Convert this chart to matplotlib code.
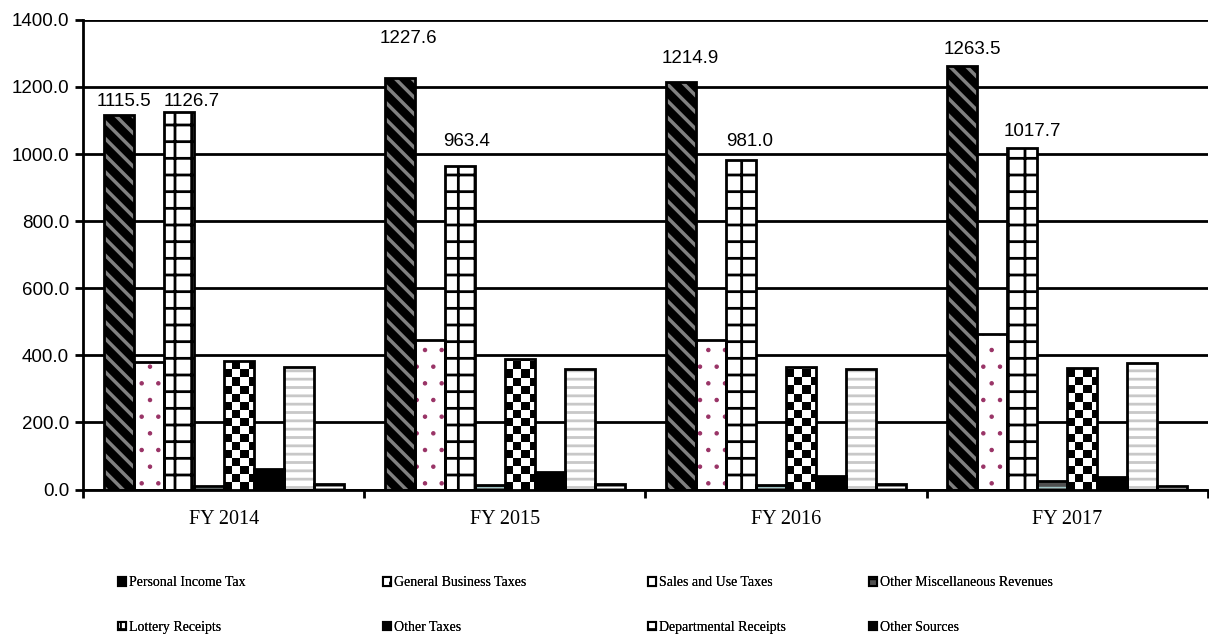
import numpy as np
import matplotlib
matplotlib.use("Agg")
import matplotlib.pyplot as plt
from matplotlib.patches import Patch

years = ["FY 2014", "FY 2015", "FY 2016", "FY 2017"]
series = ["Personal Income Tax", "General Business Taxes", "Sales and Use Taxes",
          "Other Miscellaneous Revenues", "Lottery Receipts", "Other Taxes",
          "Departmental Receipts", "Other Sources"]

personal_income = [1115.5, 1227.6, 1214.9, 1263.5]
general_business = [380.0, 446.0, 446.0, 464.0]
sales_use = [1126.7, 963.4, 981.0, 1017.7]
other_misc = [12.0, 13.0, 13.0, 26.0]
lottery = [382.0, 388.0, 364.0, 361.0]
other_taxes = [60.0, 51.0, 40.0, 38.0]
departmental = [365.0, 359.0, 360.0, 376.0]
other_sources = [17.0, 18.0, 18.0, 12.0]

values = [personal_income, general_business, sales_use, other_misc,
          lottery, other_taxes, departmental, other_sources]

# label placement (pixel offsets from bar top) for the labelled series
label_offsets = {
    0: [(5, 14), (9, 39), (9, 23), (10, 16)],
    2: [(13, 10), (7, 25), (9, 19), (10, 17)],
}

# style: (facecolor, hatch, hatchcolor, hatch linewidth)
styles = [
    ("black", "\\\\", "#808080", 2.5),
    ("white", ".", "#993366", 0.8),
    ("white", "+", "black", 2.0),
    ("#505050", "--", "#9fc5c5", 1.0),
    ("white", None, None, 0),          # checker drawn separately
    ("black", None, None, 0),
    ("white", "--", "#c8c8c8", 2.0),
    ("black", "--", "white", 1.5),
]

fig = plt.figure(figsize=(12.09, 6.40), dpi=100)
ax = fig.add_axes([0.0687, 0.235, 0.9303, 0.734])

n = len(series)
group_w = 0.854
bw = group_w / n
x = np.arange(len(years))

def hatched_bar(xpos, h, fc, hatch, hc, hlw, edge_lw=2.0):
    if hatch:
        bars = ax.bar(xpos, h, bw, color=fc, edgecolor=hc, linewidth=0,
                      hatch=hatch, zorder=2)
        for b in bars:
            try:
                b.set_hatch_linewidth(hlw)
            except AttributeError:
                pass
    else:
        bars = ax.bar(xpos, h, bw, color=fc, linewidth=0, zorder=2)
    ax.bar(xpos, h, bw, fill=False, edgecolor="black", linewidth=edge_lw, zorder=4)
    return bars

for i, (vals, st) in enumerate(zip(values, styles)):
    xpos = x - group_w / 2 + bw * (i + 0.5)
    fc, hatch, hc, hlw = st
    matplotlib.rcParams["hatch.linewidth"] = hlw if hlw else 1.0
    bars = hatched_bar(xpos, vals, fc, hatch, hc, hlw)
    if i == 4:
        # checkerboard fill, clipped to each bar
        sx = 0.0284
        sy = 23.8
        for b in bars:
            x0 = b.get_x()
            h = b.get_height()
            ncols = int(np.ceil(b.get_width() / sx)) + 1
            nrows = int(np.ceil(h / sy)) + 1
            arr = (np.add.outer(np.arange(nrows), np.arange(ncols)) % 2).astype(float)
            im = ax.imshow(arr, cmap="gray", vmin=0, vmax=1, interpolation="nearest",
                           extent=(x0, x0 + ncols * sx, 0, nrows * sy),
                           origin="lower", aspect="auto", zorder=3)
            im.set_clip_path(b)
    if i in label_offsets:
        for xp, v, (dx, dy) in zip(xpos, vals, label_offsets[i]):
            ax.annotate(f"{v:.1f}", (xp, v), xytext=(dx * 0.72, dy * 0.72),
                        textcoords="offset points",
                        ha="center", va="center", fontsize=13.5,
                        family="Liberation Sans", zorder=5)

ax.set_xlim(-0.5, len(years) - 0.5)
ax.set_ylim(0, 1400)
ax.set_aspect("auto")
ax.set_yticks(np.arange(0, 1401, 200))
ax.set_yticklabels([f"{v:.1f}" for v in np.arange(0, 1401, 200)],
                   family="Liberation Sans", fontsize=13.5)
ax.set_xticks(np.arange(-0.5, len(years), 1.0))
ax.set_xticklabels([])
ax.set_xticks(x, minor=True)
ax.set_xticklabels(years, minor=True, family="Liberation Serif", fontsize=14.5)
ax.tick_params(axis="x", which="major", length=6, width=2, direction="out")
ax.tick_params(axis="x", which="minor", length=0, pad=15)
ax.tick_params(axis="y", length=6, width=2, direction="out", pad=4)
ax.yaxis.grid(True, color="black", linewidth=2)
ax.set_axisbelow(True)
for s in ["top", "right"]:
    ax.spines[s].set_visible(False)
ax.spines["left"].set_linewidth(2)
ax.spines["bottom"].set_linewidth(2)

# legend: 4 columns, 2 rows
def handle(i):
    fc, hatch, hc, hlw = styles[i]
    if i == 4:
        return Patch(facecolor="white", edgecolor="black", hatch="++", linewidth=1.5)
    return Patch(facecolor=fc, edgecolor="black", hatch=hatch, linewidth=1.5)

col_x = [118, 383, 648, 869]
cols = [[0, 4], [1, 5], [2, 6], [3, 7]]
for cx, idxs in zip(col_x, cols):
    leg = fig.legend([handle(i) for i in idxs], [series[i] for i in idxs],
                     loc="upper left", bbox_to_anchor=(cx / 1209, 1 - 576 / 640),
                     frameon=False, prop={"family": "Liberation Serif", "size": 10},
                     handlelength=0.6, handleheight=0.6, handletextpad=0.2,
                     labelspacing=2.3, borderpad=0, borderaxespad=0)
    fig.add_artist(leg)

fig.savefig("out.png", dpi=100)
